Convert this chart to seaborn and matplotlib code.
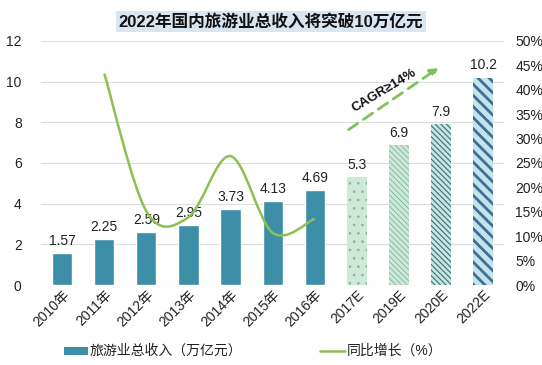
import matplotlib
matplotlib.use("Agg")
import matplotlib.pyplot as plt
from matplotlib.path import Path
from matplotlib.patches import PathPatch
import seaborn as sns
import pandas as pd
import numpy as np

years = ["2010年", "2011年", "2012年", "2013年", "2014年", "2015年", "2016年",
         "2017E", "2019E", "2020E", "2022E"]
revenue = [1.57, 2.25, 2.59, 2.95, 3.73, 4.13, 4.69, 5.3, 6.9, 7.9, 10.2]
growth_years = ["2011年", "2012年", "2013年", "2014年", "2015年", "2016年"]
growth = [43.3, 15.1, 13.9, 26.4, 10.7, 13.6]
left_ticks = [0, 2, 4, 6, 8, 10, 12]
right_ticks = [0, 5, 10, 15, 20, 25, 30, 35, 40, 45, 50]

sns.set_theme(style="white")
plt.rcParams['font.family'] = ['Liberation Sans', 'Noto Sans CJK SC', 'DejaVu Sans']

fig = plt.figure(figsize=(5.42, 3.65), dpi=100)
ax = fig.add_axes([0.076, 0.219, 0.854, 0.669])

df = pd.DataFrame({"year": years, "revenue": revenue})
sns.barplot(data=df, x="year", y="revenue", ax=ax, color="#3d8fa8", width=0.48,
            saturation=1, zorder=3)

styles = {
    7: dict(face="#cfe9d8", hatch="..", hc="#7fb892", lw=0.6),
    8: dict(face="#cbe8d8", hatch="\\\\\\\\\\\\", hc="#79a89a", lw=0.5),
    9: dict(face="#c6e6e2", hatch="\\\\\\\\\\\\", hc="#3f6f76", lw=0.8),
    10: dict(face="#c2e4ea", hatch="\\\\\\", hc="#3f6f98", lw=2.0),
}
for i, p in enumerate(ax.patches):
    if i in styles:
        s = styles[i]
        p.set_facecolor(s["face"])
        p.set_hatch(s["hatch"])
        p.set_edgecolor(s["hc"])
        p.set_linewidth(0)
        try:
            p.set_hatch_linewidth(s["lw"])
        except Exception:
            pass

for i, v in enumerate(revenue):
    ax.text(i, v + 0.25, f"{v}", ha="center", va="bottom", fontsize=10, color="#222222")

ax.set_ylim(0, 12)
ax.set_yticks(left_ticks)
ax.set_xlim(-0.5, 10.5)
ax.set_xlabel("")
ax.set_ylabel("")
ax.grid(axis="y", color="#d9dde0", linewidth=0.8, zorder=0)
ax.set_axisbelow(True)
for s in ax.spines.values():
    s.set_visible(False)
ax.tick_params(axis="y", labelsize=10, length=0, pad=14, colors="#222222")
ax.tick_params(axis="x", labelsize=10, length=0, pad=2, colors="#222222")
plt.setp(ax.get_xticklabels(), rotation=45, ha="right", rotation_mode="anchor")

ax2 = ax.twinx()
gx = [years.index(y) for y in growth_years]
ax2.set_ylim(0, 50)
ax2.set_xlim(-0.5, 10.5)

# smoothed line (Excel-style Catmull-Rom Bezier through the data points)
pts = np.column_stack([gx, growth]).astype(float)
verts = [tuple(pts[0])]
codes = [Path.MOVETO]
n = len(pts)
for i in range(n - 1):
    p0 = pts[i - 1] if i > 0 else pts[i]
    p1 = pts[i]
    p2 = pts[i + 1]
    p3 = pts[i + 2] if i + 2 < n else pts[i + 1]
    c1 = p1 + (p2 - p0) / 6.0
    c2 = p2 - (p3 - p1) / 6.0
    verts += [tuple(c1), tuple(c2), tuple(p2)]
    codes += [Path.CURVE4, Path.CURVE4, Path.CURVE4]
ax2.add_patch(PathPatch(Path(verts, codes), facecolor="none", edgecolor="#8cc152",
                        linewidth=1.8, zorder=4))

ax2.set_yticks(right_ticks)
ax2.set_yticklabels([f"{t}%" for t in right_ticks])
ax2.set_xlabel("")
ax2.set_ylabel("")
for s in ax2.spines.values():
    s.set_visible(False)
ax2.tick_params(axis="y", labelsize=10, length=0, pad=8, colors="#222222")
ax2.grid(False)

# CAGR arrow
ax2.annotate("", xy=(9.0, 44.8), xytext=(6.75, 31.5),
             arrowprops=dict(arrowstyle="-|>", color="#7cc35a", lw=2,
                             linestyle=(0, (4, 2.5)), mutation_scale=12))
ax2.text(7.65, 39.8, "CAGR≥14%", rotation=31, ha="center", va="center",
         fontsize=9.5, fontweight="bold", color="#111111")

# Title
fig.text(0.5, 0.94, "2022年国内旅游业总收入将突破10万亿元", ha="center", va="center",
         fontsize=12, fontweight="bold", color="#111111",
         bbox=dict(boxstyle="square,pad=0.15", facecolor="#d9e5f1", edgecolor="none"))

# Legend
fig.patches.append(plt.Rectangle((0.118, 0.028), 0.045, 0.022, transform=fig.transFigure,
                                 facecolor="#3d8fa8", edgecolor="none"))
fig.text(0.166, 0.039, "旅游业总收入（万亿元）", ha="left", va="center", fontsize=10, color="#222222")
fig.lines.append(plt.Line2D([0.59, 0.637], [0.039, 0.039], transform=fig.transFigure,
                            color="#8cc152", linewidth=1.8))
fig.text(0.64, 0.039, "同比增长（%）", ha="left", va="center", fontsize=10, color="#222222")

fig.savefig("out.png", dpi=100)
